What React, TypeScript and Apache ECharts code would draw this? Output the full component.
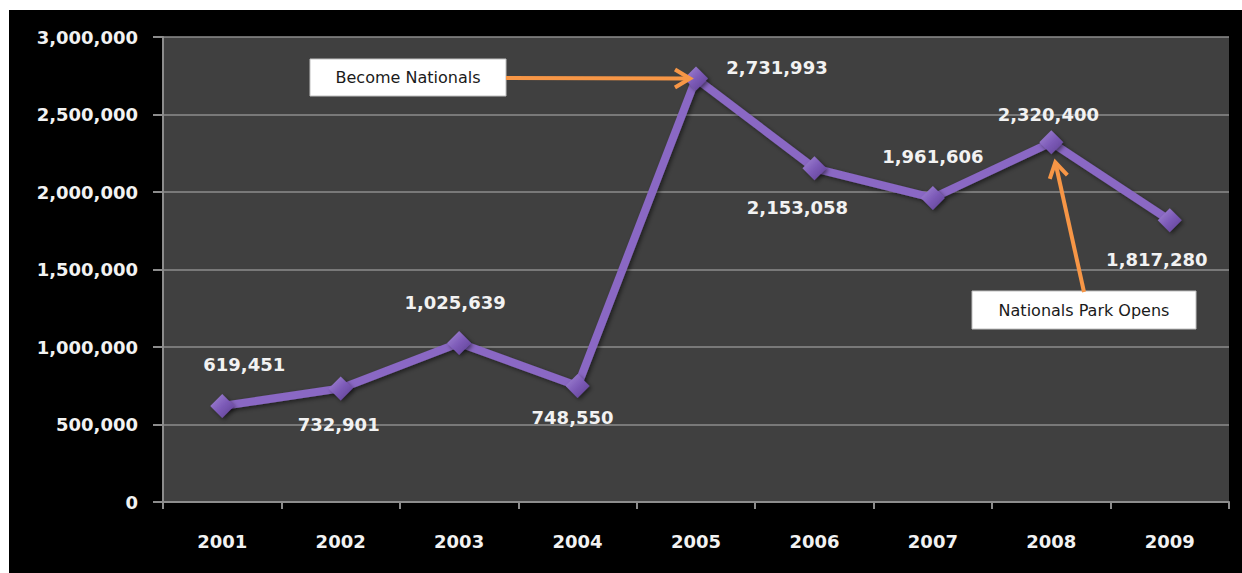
import React, { useEffect, useRef } from "react";
import * as echarts from "echarts";

const years = ["2001", "2002", "2003", "2004", "2005", "2006", "2007", "2008", "2009"];
const attendance = [619451, 732901, 1025639, 748550, 2731993, 2153058, 1961606, 2320400, 1817280];
// label offsets (dx, dy) relative to each point
const labelOffsets: [number, number][] = [
  [22, -41], [-2, 36], [-4, -41], [-5, 32], [81, -11], [-17, 39], [0, -41], [-3, -28], [-13, 39],
];
const yMax = 3000000;
const yStep = 500000;

const annotations = [
  { text: "Become Nationals", index: 4, box: [301, 49, 196, 37], from: [497, 68], tipDx: -6, tipDy: 0 },
  { text: "Nationals Park Opens", index: 7, box: [963, 281, 224, 38], from: [1075, 282], tipDx: 4, tipDy: 20 },
];

const fmt = (v: number) => v.toLocaleString("en-US");

export default function App() {
  const ref = useRef<HTMLDivElement>(null);
  useEffect(() => {
    if (!ref.current) return;
    const chart = echarts.init(ref.current, null, { renderer: "svg" });
    const font = "DejaVu Sans";
    chart.setOption({
      animation: false,
      backgroundColor: "#000000",
      grid: {
        left: 154, right: 13, top: 27, bottom: 71,
        show: true, backgroundColor: "#404040", borderWidth: 0,
      },
      xAxis: {
        type: "category",
        data: years,
        boundaryGap: true,
        axisLine: { lineStyle: { color: "#8c8c8c", width: 2 } },
        axisTick: { show: true, length: 7, interval: 0, lineStyle: { color: "#8c8c8c", width: 2 } },
        axisLabel: { color: "#f2f2f2", fontFamily: font, fontWeight: "bold", fontSize: 18, margin: 30 },
        splitLine: { show: false },
      },
      yAxis: {
        type: "value",
        min: 0,
        max: yMax,
        interval: yStep,
        axisLine: { show: true, lineStyle: { color: "#8c8c8c", width: 2 } },
        axisTick: { show: true, length: 10, lineStyle: { color: "#8c8c8c", width: 2 } },
        axisLabel: { color: "#f2f2f2", fontFamily: font, fontWeight: "bold", fontSize: 18, margin: 25, formatter: (v: number) => fmt(v) },
        splitLine: { show: true, lineStyle: { color: "#8c8c8c", width: 1.5 } },
      },
      series: [
        {
          type: "line",
          data: attendance.map((v, i) => ({
            value: v,
            label: { offset: labelOffsets[i] },
          })),
          symbol: "diamond",
          symbolSize: 24,
          lineStyle: { color: "#8a68c4", width: 8, shadowColor: "rgba(0,0,0,0.5)", shadowBlur: 4, shadowOffsetX: 2, shadowOffsetY: 2 },
          itemStyle: {
            color: new echarts.graphic.LinearGradient(0, 0, 1, 1, [
              { offset: 0, color: "#a58ad6" },
              { offset: 0.5, color: "#7d5bb8" },
              { offset: 1, color: "#5d3f92" },
            ]),
            borderWidth: 0,
            shadowColor: "rgba(0,0,0,0.5)", shadowBlur: 4, shadowOffsetX: 2, shadowOffsetY: 2,
          },
          label: {
            show: true,
            position: "inside",
            formatter: (p: any) => fmt(p.value),
            color: "#f2f2f2",
            fontFamily: font,
            fontWeight: "bold",
            fontSize: 18,
          },
          z: 3,
        },
      ],
    });

    const graphics: any[] = [];
    annotations.forEach((a) => {
      const p = chart.convertToPixel({ seriesIndex: 0 }, [a.index, attendance[a.index]]) as number[];
      const tip = [p[0] + a.tipDx, p[1] + a.tipDy];
      const dx = tip[0] - a.from[0];
      const dy = tip[1] - a.from[1];
      const len = Math.sqrt(dx * dx + dy * dy);
      const ux = dx / len, uy = dy / len;
      const nx = -uy, ny = ux;
      const L = 15, W = 9;
      graphics.push({
        type: "rect",
        shape: { x: a.box[0], y: a.box[1], width: a.box[2], height: a.box[3] },
        style: { fill: "#ffffff", stroke: "#bfbfbf", lineWidth: 1 },
        z: 100,
      });
      graphics.push({
        type: "text",
        x: a.box[0] + a.box[2] / 2,
        y: a.box[1] + a.box[3] / 2,
        style: { text: a.text, fill: "#1a1a1a", font: `16px ${font}`, align: "center", verticalAlign: "middle" },
        z: 101,
      });
      graphics.push({
        type: "line",
        shape: { x1: a.from[0], y1: a.from[1], x2: tip[0] - ux * 2, y2: tip[1] - uy * 2 },
        style: { stroke: "#f79646", lineWidth: 4 },
        z: 100,
      });
      graphics.push({
        type: "polyline",
        shape: {
          points: [
            [tip[0] - ux * L + nx * W, tip[1] - uy * L + ny * W],
            [tip[0], tip[1]],
            [tip[0] - ux * L - nx * W, tip[1] - uy * L - ny * W],
          ],
        },
        style: { stroke: "#f79646", lineWidth: 4, fill: null, lineJoin: "miter" },
        z: 100,
      });
    });
    chart.setOption({ graphic: graphics });

    return () => chart.dispose();
  }, []);
  return (
    <div
      ref={ref}
      style={{ position: "absolute", left: 9, top: 10, width: 1233, height: 563, background: "#000" }}
    />
  );
}
